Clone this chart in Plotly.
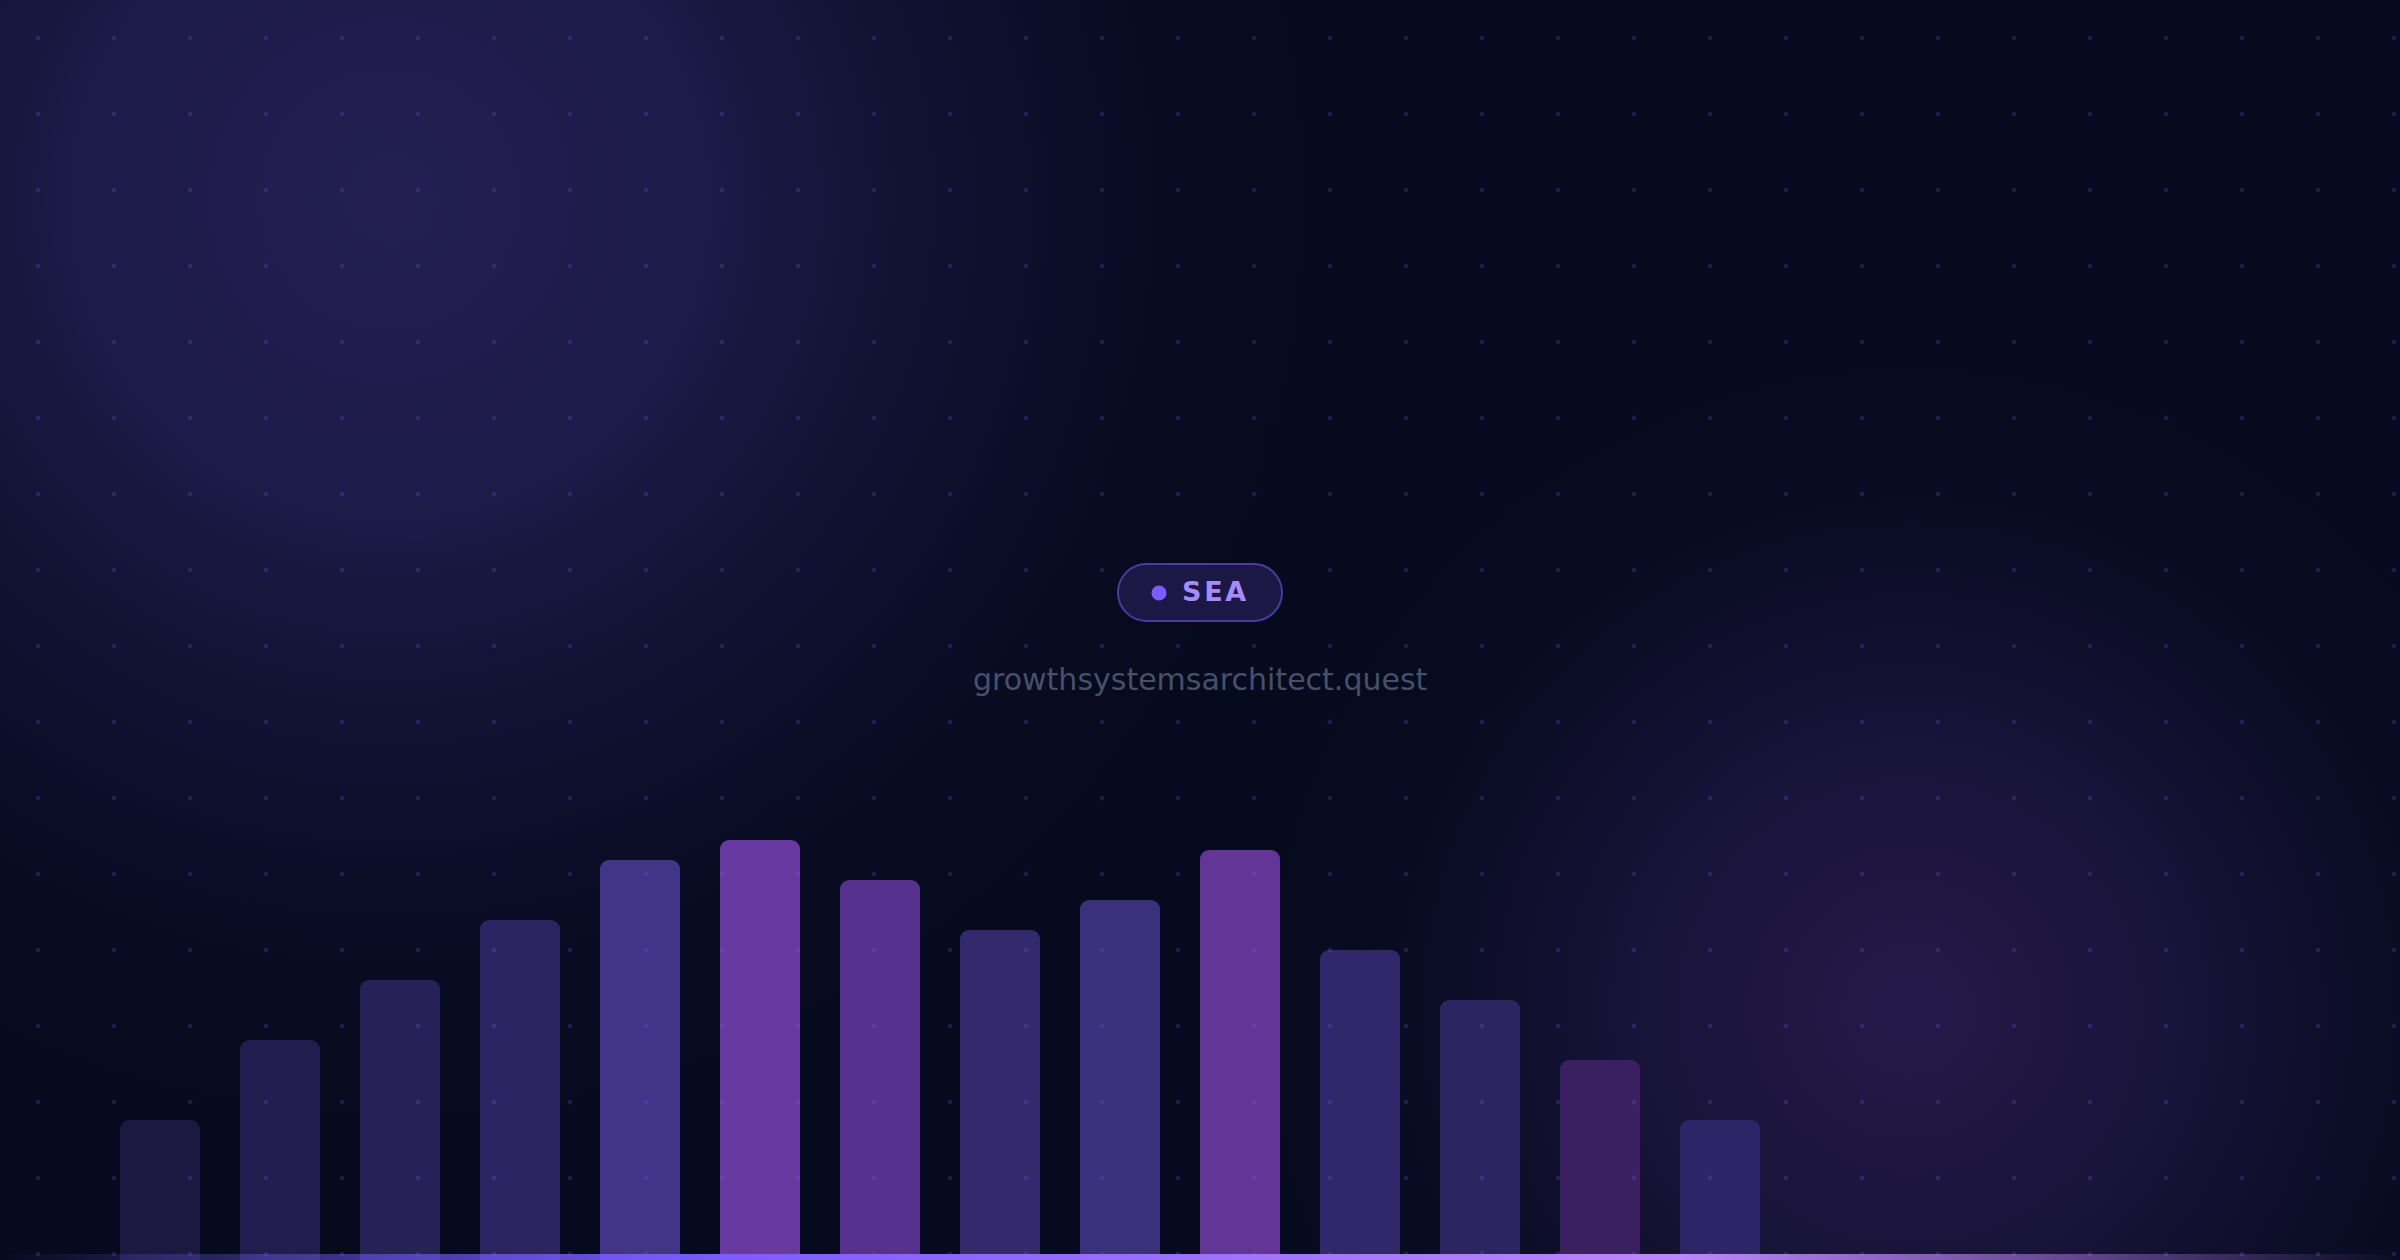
import base64
import plotly.graph_objects as go

# bar chart data (heights, in px of a 1260px tall page)
categories = ["B1", "B2", "B3", "B4", "B5", "B6", "B7", "B8", "B9", "B10", "B11", "B12", "B13", "B14"]
levels = [140, 220, 280, 340, 400, 420, 380, 330, 360, 410, 310, 260, 200, 140]
bar_colors = ["#1b1942", "#211d4f", "#262258", "#2c2462", "#423587", "#6839a1", "#58308d", "#33296c",
              "#3b307b", "#623597", "#30286a", "#2d2562", "#3a2061", "#2e2468"]

badge_label = "SEA"
site_url = "growthsystemsarchitect.quest"

W, H = 2400, 1260


def svg_uri(svg):
    return "data:image/svg+xml;base64," + base64.b64encode(svg.encode()).decode()


# background: dark navy with two soft glows
bg_svg = f"""<svg xmlns='http://www.w3.org/2000/svg' width='{W}' height='{H}' viewBox='0 0 {W} {H}' preserveAspectRatio='none'>
<defs>
<radialGradient id='g1' gradientUnits='userSpaceOnUse' cx='390' cy='200' r='980'>
<stop offset='0' stop-color='#231f52' stop-opacity='1'/>
<stop offset='0.3' stop-color='#201d4e' stop-opacity='0.92'/>
<stop offset='0.65' stop-color='#16143a' stop-opacity='0.45'/>
<stop offset='1' stop-color='#060a1e' stop-opacity='0'/>
</radialGradient>
<radialGradient id='g2' gradientUnits='userSpaceOnUse' cx='1910' cy='1010' r='700'>
<stop offset='0' stop-color='#251a4a' stop-opacity='1'/>
<stop offset='0.4' stop-color='#1e1642' stop-opacity='0.75'/>
<stop offset='1' stop-color='#060a1e' stop-opacity='0'/>
</radialGradient>
</defs>
<rect width='{W}' height='{H}' fill='#060a1e'/>
<rect width='{W}' height='{H}' fill='url(#g1)'/>
<rect width='{W}' height='{H}' fill='url(#g2)'/>
</svg>"""

# overlay: dot grid + glowing baseline
fg_svg = f"""<svg xmlns='http://www.w3.org/2000/svg' width='{W}' height='{H}' viewBox='0 0 {W} {H}' preserveAspectRatio='none'>
<defs>
<pattern id='dots' width='76' height='76' patternUnits='userSpaceOnUse'>
<circle cx='38' cy='38' r='2.2' fill='#7c5cff' fill-opacity='0.22'/>
</pattern>
<linearGradient id='base' x1='0' y1='0' x2='1' y2='0'>
<stop offset='0' stop-color='#7c5cff' stop-opacity='0'/>
<stop offset='0.3' stop-color='#7c5cff' stop-opacity='1'/>
<stop offset='0.7' stop-color='#c084fc' stop-opacity='1'/>
<stop offset='1' stop-color='#c084fc' stop-opacity='0'/>
</linearGradient>
</defs>
<rect width='{W}' height='{H}' fill='url(#dots)'/>
<rect x='0' y='{H - 6}' width='{W}' height='6' fill='url(#base)'/>
</svg>"""

fig = go.Figure(go.Bar(
    x=categories, y=levels,
    marker=dict(color=bar_colors, line=dict(width=0)),
    hoverinfo="skip",
))

# pill badge (pixel sized around its centre)
pw, ph = 82, 28.5
k = 0.5523 * ph
cx = pw - ph
pill = (f"M {-cx},{ph} L {cx},{ph} C {cx + k},{ph} {pw},{k} {pw},0 "
        f"C {pw},{-k} {cx + k},{-ph} {cx},{-ph} L {-cx},{-ph} "
        f"C {-cx - k},{-ph} {-pw},{-k} {-pw},0 C {-pw},{k} {-cx - k},{ph} {-cx},{ph} Z")

fig.update_layout(
    width=W, height=H, autosize=False,
    margin=dict(l=0, r=0, t=0, b=0),
    paper_bgcolor="#060a1e", plot_bgcolor="rgba(0,0,0,0)",
    showlegend=False,
    bargap=1 / 3, barcornerradius=9,
    xaxis=dict(type="category", range=[-4 / 3, 56 / 3], visible=False, fixedrange=True),
    yaxis=dict(range=[0, H], visible=False, fixedrange=True),
    images=[
        dict(source=svg_uri(bg_svg), xref="paper", yref="paper", x=0, y=1, sizex=1, sizey=1,
             xanchor="left", yanchor="top", sizing="stretch", layer="below"),
        dict(source=svg_uri(fg_svg), xref="paper", yref="paper", x=0, y=1, sizex=1, sizey=1,
             xanchor="left", yanchor="top", sizing="stretch", layer="above"),
    ],
    shapes=[
        dict(type="path", xref="paper", yref="paper", xsizemode="pixel", ysizemode="pixel",
             xanchor=0.5, yanchor=1 - 592.5 / H, path=pill,
             fillcolor="#1c1845", line=dict(color="#4b3b9e", width=2)),
        dict(type="circle", xref="paper", yref="paper", xsizemode="pixel", ysizemode="pixel",
             xanchor=1159 / W, yanchor=1 - 593 / H, x0=-7.5, x1=7.5, y0=-7.5, y1=7.5,
             fillcolor="#7c5cff", line=dict(width=0)),
    ],
    annotations=[
        dict(text="<b>" + "\u200a".join(badge_label) + "</b>", xref="paper", yref="paper",
             x=1214 / W, y=1 - 591 / H, xanchor="center", yanchor="middle", showarrow=False,
             font=dict(family="DejaVu Sans", size=27, color="#a78bfa")),
        dict(text=site_url, xref="paper", yref="paper",
             x=0.5, y=1 - 679 / H, xanchor="center", yanchor="middle", showarrow=False,
             font=dict(family="DejaVu Sans", size=30, color="#485069")),
    ],
)

fig.write_html("out.html", config={"displayModeBar": False},
               post_script="document.body.style.margin='0';document.body.style.overflow='hidden';")
